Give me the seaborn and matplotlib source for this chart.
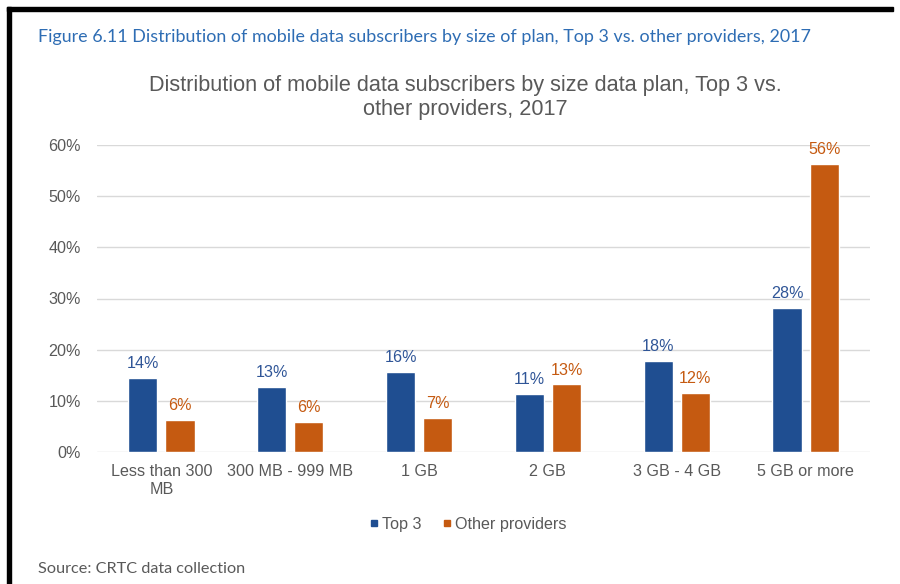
import numpy as np
import pandas as pd
import matplotlib
matplotlib.use("Agg")
import matplotlib.pyplot as plt
import seaborn as sns
from matplotlib.lines import Line2D
from matplotlib.patches import Rectangle

# 数据：从图上估读
plan_sizes = ["Less than 300\nMB", "300 MB - 999 MB", "1 GB", "2 GB", "3 GB - 4 GB", "5 GB or more"]
top3 = [14.4, 12.8, 15.6, 11.3, 17.8, 28.1]
other = [6.3, 5.9, 6.6, 13.2, 11.6, 56.3]
providers = ["Top 3", "Other providers"]
y_ticks = [0, 10, 20, 30, 40, 50, 60]

blue = "#1F4E91"
orange = "#C55A11"
blue_txt = "#2F5597"
orange_txt = "#C55A11"
gray = "#595959"

df = pd.DataFrame({
    "plan": plan_sizes * 2,
    "provider": [providers[0]] * len(plan_sizes) + [providers[1]] * len(plan_sizes),
    "share": top3 + other,
})

sns.set_theme(style="white")
plt.rcParams['font.family'] = ['Liberation Sans', 'DejaVu Sans']

fig = plt.figure(figsize=(9, 5.84), dpi=100)
ax = fig.add_axes([97 / 900, 1 - 452 / 584, (870 - 97) / 900, (452 - 145) / 584])

sns.barplot(data=df, x="plan", y="share", hue="provider", order=plan_sizes,
            hue_order=providers, palette=[blue, orange], width=0.576, gap=0.215,
            saturation=1, legend=False, ax=ax)

ax.set_xlim(-0.5, len(plan_sizes) - 0.5)
ax.set_ylim(0, 60)
ax.set_yticks(y_ticks)
ax.set_yticklabels([f"{t}%" for t in y_ticks])
ax.yaxis.grid(True, color="#D9D9D9", linewidth=1)
ax.set_axisbelow(True)
for s in ax.spines.values():
    s.set_visible(False)
ax.set_xlabel("")
ax.set_ylabel("")
ax.tick_params(axis="both", length=0, labelsize=11.6, labelcolor=gray)
ax.tick_params(axis="y", pad=11.5)
ax.tick_params(axis="x", pad=9)

# 柱子上方的数值标签
for cont, col in zip(ax.containers, [blue_txt, orange_txt]):
    ax.bar_label(cont, labels=[f"{v:.0f}%" for v in cont.datavalues],
                 padding=5, color=col, fontsize=11.6)

# 图例
handles = [Line2D([], [], marker="s", linestyle="", color=c, markersize=5) for c in [blue, orange]]
fig.legend(handles, providers, loc="center", bbox_to_anchor=(467 / 900, 1 - 524 / 584),
           ncol=2, frameon=False, fontsize=11.6, labelcolor=gray, handletextpad=0.1,
           columnspacing=1.2, handlelength=0.8)

# 标题
fig.text(465 / 900, 1 - 86 / 584, "Distribution of mobile data subscribers by size data plan, Top 3 vs.",
         ha="center", va="center", fontsize=15.6, color=gray)
fig.text(465 / 900, 1 - 110 / 584, "other providers, 2017",
         ha="center", va="center", fontsize=15.6, color=gray)

fig.text(38 / 900, 1 - 37 / 584,
         "Figure 6.11 Distribution of mobile data subscribers by size of plan, Top 3 vs. other providers, 2017",
         ha="left", va="center", fontsize=12.85, color="#2E6DB4", family=["Lato", "DejaVu Sans"])
fig.text(38 / 900, 1 - 569 / 584, "Source: CRTC data collection",
         ha="left", va="center", fontsize=11.7, color=gray, family=["Lato", "DejaVu Sans"])

# 黑色外框（左边和上边）
fig.patches.append(Rectangle((7 / 900, 0), 4 / 900, 1 - 7 / 584, transform=fig.transFigure,
                             color="black", zorder=10))
fig.patches.append(Rectangle((7 / 900, 1 - 11 / 584), 886 / 900, 4 / 584, transform=fig.transFigure,
                             color="black", zorder=10))

fig.savefig("out.png", dpi=100)
